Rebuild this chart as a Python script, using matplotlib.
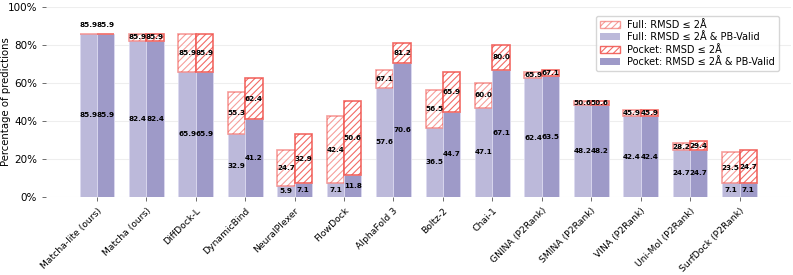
import numpy as np
import matplotlib.pyplot as plt
from matplotlib.patches import Patch

methods = ["Matcha-lite (ours)", "Matcha (ours)", "DiffDock-L", "DynamicBind", "NeuralPlexer",
           "FlowDock", "AlphaFold 3", "Boltz-2", "Chai-1", "GNINA (P2Rank)", "SMINA (P2Rank)",
           "VINA (P2Rank)", "Uni-Mol (P2Rank)", "SurfDock (P2Rank)"]
full_rmsd = [85.9, 85.9, 85.9, 55.3, 24.7, 42.4, 67.1, 56.5, 60.0, 65.9, 50.6, 45.9, 28.2, 23.5]
full_pb = [85.9, 82.4, 65.9, 32.9, 5.9, 7.1, 57.6, 36.5, 47.1, 62.4, 48.2, 42.4, 24.7, 7.1]
pocket_rmsd = [85.9, 85.9, 85.9, 62.4, 32.9, 50.6, 81.2, 65.9, 80.0, 67.1, 50.6, 45.9, 29.4, 24.7]
pocket_pb = [85.9, 82.4, 65.9, 41.2, 7.1, 11.8, 70.6, 44.7, 67.1, 63.5, 48.2, 42.4, 24.7, 7.1]

plt.rcParams['hatch.linewidth'] = 0.8
fig = plt.figure(figsize=(7.93, 2.75), dpi=100)
ax = fig.add_axes([0.058, 0.284, 0.94, 0.69])

x = np.arange(len(methods))
w = 0.35
c_full = "#bcb9da"
c_pock = "#9e9ac8"
red = "#f0504a"

def draw(xs, pb, rmsd, color, alpha):
    pb = np.array(pb); rmsd = np.array(rmsd)
    ax.bar(xs, pb, w, color=color, edgecolor="#dcdaf0", linewidth=0.6, zorder=2)
    ax.bar(xs, rmsd - pb, w, bottom=pb, facecolor="white", edgecolor=red, hatch="/////",
           linewidth=1.2, alpha=alpha, zorder=2)
    for xi, p, r in zip(xs, pb, rmsd):
        ax.text(xi, p / 2, f"{p:.1f}", ha="center", va="center", fontsize=5.2,
                fontweight="bold", zorder=5)
        ym = (p + r) / 2 if r - p > 0.5 else r + 4.5
        ax.text(xi, ym, f"{r:.1f}", ha="center", va="center", fontsize=5.2,
                fontweight="bold", zorder=5)

draw(x - w / 2, full_pb, full_rmsd, c_full, 0.55)
draw(x + w / 2, pocket_pb, pocket_rmsd, c_pock, 0.85)

ax.set_xlim(-1.03, 14.05)
ax.set_ylim(0, 100)
ax.set_yticks(range(0, 101, 20))
ax.set_yticklabels([f"{v}%" for v in range(0, 101, 20)], fontsize=7.5)
ax.set_xticks(x)
ax.set_xticklabels(methods, rotation=45, ha="right", rotation_mode="anchor", fontsize=6.7)
ax.set_ylabel("Percentage of predictions", fontsize=7.3)
ax.yaxis.set_label_coords(-0.047, 0.5)
ax.grid(axis="y", color="#eeeeee", linewidth=0.8, zorder=0)
ax.set_axisbelow(True)
for s in ax.spines.values():
    s.set_visible(False)
ax.tick_params(axis="both", length=3, color="#555555", width=0.6)

handles = [
    Patch(facecolor="white", edgecolor=red, hatch="/////", alpha=0.55, label="Full: RMSD ≤ 2Å"),
    Patch(facecolor=c_full, label="Full: RMSD ≤ 2Å & PB-Valid"),
    Patch(facecolor="white", edgecolor=red, hatch="/////", alpha=0.85, label="Pocket: RMSD ≤ 2Å"),
    Patch(facecolor=c_pock, label="Pocket: RMSD ≤ 2Å & PB-Valid"),
]
ax.legend(handles=handles, loc="upper right", fontsize=7, frameon=True, handlelength=2.0,
          borderpad=0.4, labelspacing=0.25, bbox_to_anchor=(0.99, 0.98))

fig.savefig("out.png", dpi=100)
